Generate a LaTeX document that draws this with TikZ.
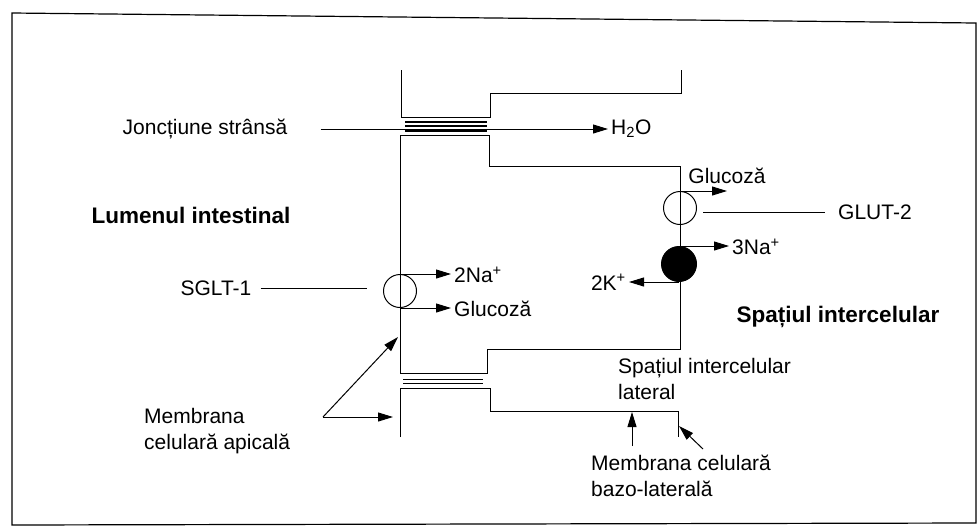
\documentclass[tikz,border=0pt]{standalone}
\usepackage{fontspec}
\setmainfont{Liberation Sans}
\usetikzlibrary{arrows.meta,positioning}

\begin{document}
\begin{tikzpicture}[x=1pt, y=-1pt,
    memb/.style={line width=1pt},
    strand/.style={line width=1.5pt},
    arr/.style={-{Triangle[length=15pt,width=9pt]}, line width=1pt},
    lbl/.style={font=\fontsize{21}{26}\selectfont, inner sep=3pt},
    zone/.style={font=\fontsize{22.5}{26}\selectfont\bfseries, inner sep=2pt},
    transp/.style={circle, draw, line width=1pt, minimum size=33pt, inner sep=0pt}
]
\useasboundingbox (0,0) rectangle (978,531);
\draw[line width=1.2pt] (12,13) -- (976,23) -- (976,523) -- (12,525) -- cycle;

% celulele epiteliale
\draw[memb] (401,70) -- (401,117) -- (490,117) -- (490,93) -- (681,93) -- (681,70);
\draw[memb] (400,135) -- (489,135) -- (489,166) -- (680,166) -- (680,349)
    -- (487,349) -- (487,373) -- (400,373) -- cycle;
\draw[memb] (400,437) -- (400,388) -- (490,388) -- (490,411) -- (678,411) -- (678,437);

% jonctiunile stranse
\foreach \y in {122,126,131} \draw[strand] (405,\y) -- (487,\y);
\foreach \y in {379.5,383.5} \draw[strand] (403,\y) -- (483,\y);

% transportori
\node[transp] (sglt) at (400,291) {};
\node[transp] (glut) at (680,208) {};
\node[transp, fill=black, minimum size=35pt] (pompa) at (679,264) {};

% zone
\node[zone] (lumen) at (191,215) {Lumenul intestinal};
\node[zone] (spatiu) at (838,317) {Spațiul intercelular};

% apa prin jonctiune
\node[lbl] (jonct) at (205,129) {Joncțiune strânsă};
\node[lbl, anchor=west] (apa) at (608,129) {H\textsubscript{2}O};
\draw[arr, shorten <=30pt] (jonct) -- (apa);

% SGLT-1
\node[lbl] (sgltlbl) at (216,288) {SGLT-1};
\draw[memb, shorten <=6pt, shorten >=16pt] (sgltlbl.east) -- (sgltlbl.east -| sglt.west);
\node[lbl, anchor=west] (na2) at (451,275) {2Na\textsuperscript{+}};
\node[lbl, anchor=west] (glc1) at (451,309) {Glucoză};
\draw[arr] (sglt.north) -- (sglt.north -| na2.west);
\draw[arr] (sglt.south) -- (sglt.south -| glc1.west);

% GLUT-2
\node[lbl] (glc2) at (727,176) {Glucoză};
\draw[arr] (glut.north) -- (glut.north -| glc2);
\node[lbl, anchor=west] (glutlbl) at (835,212) {GLUT-2};
\draw[memb, shorten <=6pt, shorten >=10pt] (glut.east |- glutlbl) -- (glutlbl.west);

% pompa Na/K
\node[lbl, anchor=west] (na3) at (729,247) {3Na\textsuperscript{+}};
\draw[arr] (pompa.north) -- (pompa.north -| na3.west);
\node[lbl, anchor=east] (k2) at (629,282) {2K\textsuperscript{+}};
\draw[arr] (pompa.south) -- (pompa.south -| k2.east);

% spatiul lateral
\node[lbl, anchor=west, align=left] (lateral) at (615,379) {Spațiul intercelular\\lateral};

% membrana apicala
\node[lbl, anchor=west, align=left] (apical) at (141,431) {Membrana\\celulară apicală};
\coordinate (apex) at (323,417);
\coordinate (apic1) at (398,337);
\coordinate (apic2) at (393,417);
\draw[arr] (apex) -- (apic1);
\draw[arr] (apex) -- (apic2);

% membrana bazo-laterala
\node[lbl, anchor=west, align=left] (bazal) at (588,476) {Membrana celulară\\bazo-laterală};
\coordinate (bz1) at (632,446);
\coordinate (bz1t) at (632,412);
\coordinate (bz2) at (703,449);
\coordinate (bz2t) at (679,426);
\draw[arr] (bz1) -- (bz1t);
\draw[arr] (bz2) -- (bz2t);
\end{tikzpicture}
\end{document}
